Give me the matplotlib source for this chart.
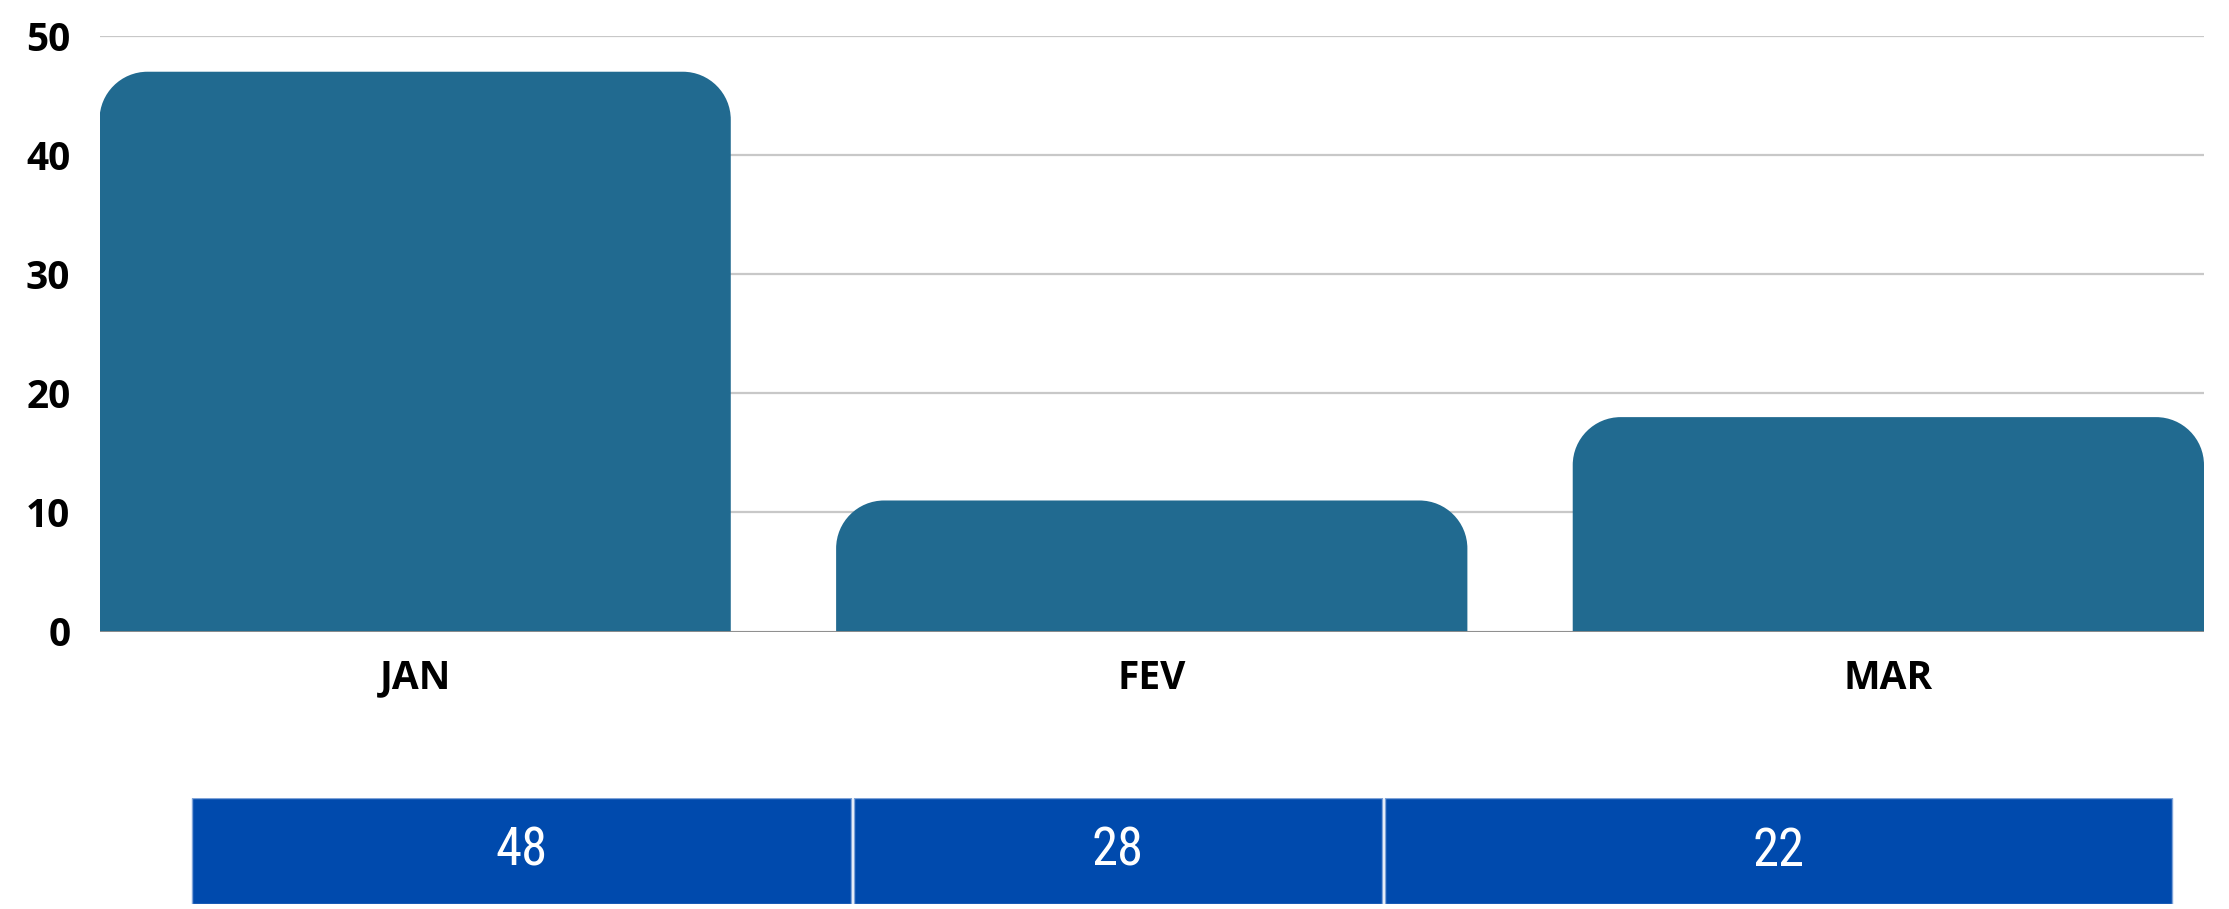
import matplotlib

matplotlib.use('Agg')
import matplotlib.pyplot as plt
from matplotlib.path import Path
from matplotlib.patches import PathPatch, Rectangle
import numpy as np

# data
months = ['JAN', 'FEV', 'MAR']
bar_values = [47, 11, 18]
table_values = ['48', '28', '22']
y_ticks = [0, 10, 20, 30, 40, 50]

W, H = 2229, 909
DPI = 100
bar_color = '#216a90'
cell_color = '#004aad'

fig = plt.figure(figsize=(W / DPI, H / DPI), dpi=DPI)
fig.patch.set_facecolor('white')

# main axes, placed in pixels
ax_l, ax_r, ax_t, ax_b = 99.5, 2204, 36, 631.5
ax = fig.add_axes([ax_l / W, 1 - ax_b / H, (ax_r - ax_l) / W, (ax_b - ax_t) / H])

bar_w = 0.857
x = np.arange(len(months))
ax.set_xlim(-bar_w / 2, len(months) - 1 + bar_w / 2)
ax.set_ylim(0, 50)

for s in ax.spines.values():
    s.set_visible(False)
ax.set_yticks(y_ticks)
ax.yaxis.grid(True, color='#c8c8c8', lw=1.6, zorder=0)
ax.set_axisbelow(True)
ax.tick_params(axis='both', length=0)
ax.tick_params(axis='y', pad=21)
ax.tick_params(axis='x', pad=19.5)
ax.set_xticks(x)
ax.set_xticklabels(months)
for lab in ax.get_xticklabels() + ax.get_yticklabels():
    lab.set_fontfamily(['Open Sans', 'DejaVu Sans'])
    lab.set_fontweight('bold')
    lab.set_fontsize(28)
    lab.set_color('black')

# rounded-top bars, radius given in pixels
radius_px = 48
px_x = (ax_r - ax_l) / (ax.get_xlim()[1] - ax.get_xlim()[0])
px_y = (ax_b - ax_t) / (ax.get_ylim()[1] - ax.get_ylim()[0])
rx, ry = radius_px / px_x, radius_px / px_y
k = 0.5523


def rounded_bar(xc, h):
    x0, x1 = xc - bar_w / 2, xc + bar_w / 2
    verts = [
        (x0, 0), (x0, h - ry),
        (x0, h - ry + k * ry), (x0 + rx - k * rx, h), (x0 + rx, h),
        (x1 - rx, h),
        (x1 - rx + k * rx, h), (x1, h - ry + k * ry), (x1, h - ry),
        (x1, 0), (x0, 0),
    ]
    codes = [Path.MOVETO, Path.LINETO,
             Path.CURVE4, Path.CURVE4, Path.CURVE4,
             Path.LINETO,
             Path.CURVE4, Path.CURVE4, Path.CURVE4,
             Path.LINETO, Path.CLOSEPOLY]
    return Path(verts, codes)


for xc, v in zip(x, bar_values):
    ax.add_patch(PathPatch(rounded_bar(xc, v), facecolor=bar_color,
                           edgecolor='none', zorder=2))

ax.axhline(0, color='#8a8a8a', lw=2, zorder=3)

# table row under the chart
col_edges = [192, 852.5, 1383.5, 2172]
tb_t, tb_b = 798, 904
tax = fig.add_axes([0, 1 - tb_b / H, 1, (tb_b - tb_t) / H])
tax.set_xlim(0, W)
tax.set_ylim(0, 1)
tax.axis('off')
gap = 1.5
for i, val in enumerate(table_values):
    a = col_edges[i] + (gap if i > 0 else 0)
    b = col_edges[i + 1] - (gap if i < len(table_values) - 1 else 0)
    tax.add_patch(Rectangle((a, 0), b - a, 1, facecolor=cell_color,
                            edgecolor='#7fa3d8', lw=1))
    tax.text((a + b) / 2, 0.5, val, ha='center', va='center', color='white',
             fontsize=38, fontweight='normal',
             family=['Roboto Condensed', 'Open Sans Condensed', 'DejaVu Sans'])

fig.savefig('out.png', dpi=DPI)
